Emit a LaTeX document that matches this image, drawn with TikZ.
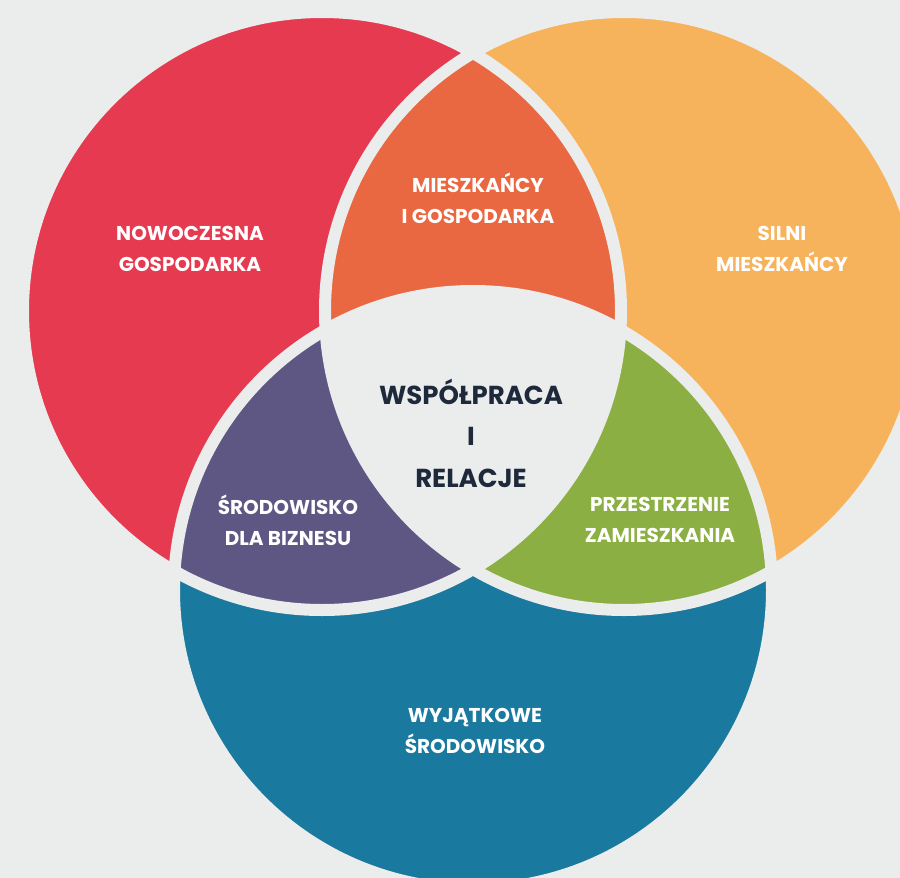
\documentclass[tikz,border=0pt]{standalone}
\usepackage{fontspec}
\setmainfont{Poppins}

\definecolor{paper}{HTML}{EBECEC}
\definecolor{vred}{HTML}{E63A50}
\definecolor{vyellow}{HTML}{F7B35B}
\definecolor{vorange}{HTML}{EA6841}
\definecolor{vpurple}{HTML}{5E5783}
\definecolor{vgreen}{HTML}{8BAF42}
\definecolor{vblue}{HTML}{1A799E}
\definecolor{ink}{HTML}{1E2A3B}

\tikzset{
    gap/.style={draw=paper, line width=12pt},
    label/.style={align=center, text=white, font=\fontsize{20}{31}\selectfont\bfseries},
    middle/.style={align=center, text=ink, font=\fontsize{26}{41.5}\selectfont\bfseries}
}

\begin{document}
\begin{tikzpicture}[x=1pt,y=-1pt]
        \useasboundingbox (0,0) rectangle (900,878);
        \fill[paper] (0,0) rectangle (900,878);
        \clip (0,0) rectangle (900,878);

        \coordinate (red) at (322,311);
        \coordinate (yellow) at (624,311);
        \coordinate (blue) at (473,590);

        \fill[vred] (red) circle (299pt);
        \fill[vyellow] (yellow) circle (299pt);
        \fill[vblue] (blue) circle (299pt);

        \begin{scope}
            \clip (red) circle (299pt);
            \fill[vorange] (yellow) circle (299pt);
            \fill[vpurple] (blue) circle (299pt);
        \end{scope}

        \begin{scope}
            \clip (yellow) circle (299pt);
            \fill[vgreen] (blue) circle (299pt);
            \clip (red) circle (299pt);
            \fill[paper] (blue) circle (299pt);
        \end{scope}

        \foreach \c in {red,yellow,blue}
            \draw[gap] (\c) circle (299pt);

        \node[label] (economy) at (190,249) {NOWOCZESNA\\ GOSPODARKA};
        \node[label] (residents) at (782,249) {SILNI\\ MIESZKAŃCY};
        \node[label] (resecon) at (478,198) {MIESZKAŃCY\\ I GOSPODARKA};
        \node[label] (business) at (288,520) {ŚRODOWISKO\\ DLA BIZNESU};
        \node[label] (living) at (660,520) {PRZESTRZENIE\\ ZAMIESZKANIA};
        \node[label] (environment) at (475,731) {WYJĄTKOWE\\ ŚRODOWISKO};

        \node[middle] (cooperation) at (471,433) {WSPÓŁPRACA\\ I\\ RELACJE};
    \end{tikzpicture}
\end{document}
